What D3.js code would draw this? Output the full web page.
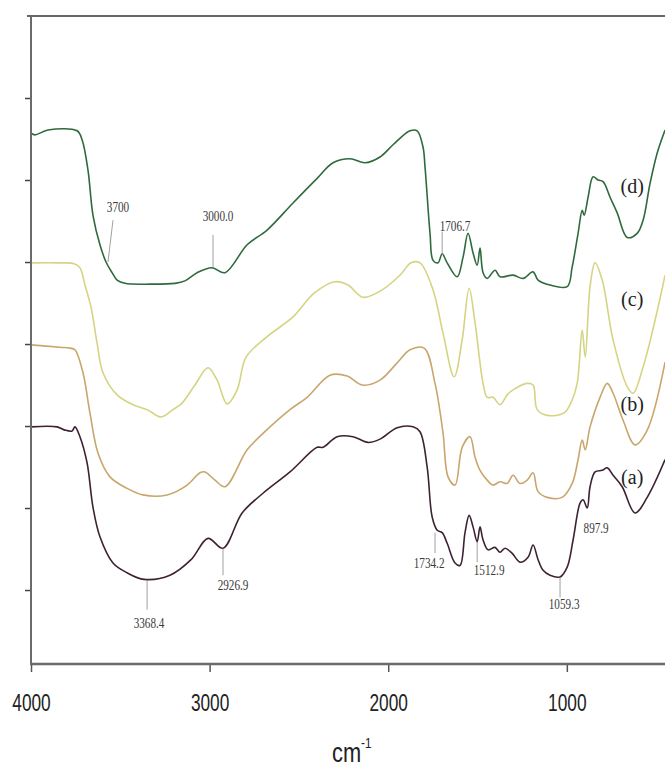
<!DOCTYPE html>
<html lang="en">
<head>
    <meta charset="UTF-8">
    <title>FTIR spectra (a)-(d)</title>
    <script src="https://d3js.org/d3.v7.min.js"></script>
    <style>
        body { margin: 0; background: #fff; }
        svg { display: block; }
    </style>
</head>
<body>
    <div id="chart"></div>

    <script>
        // wavenumber (cm-1) and transmittance (arbitrary, offset)
        const specA = [
            [4000, 29.9], [3854, 29.9], [3810, 29.5], [3770, 29.4], [3754, 29.9], [3726, 28.7],
            [3686, 25.5], [3653, 20.1], [3614, 16.5], [3541, 13.3], [3462, 12.1], [3367, 11.3],
            [3222, 11.8], [3104, 13.7], [3009, 16.3], [2925, 15.1], [2818, 19.4], [2701, 21.8],
            [2550, 24.4], [2398, 27.4], [2365, 27.4], [2286, 28.7], [2197, 28.7], [2113, 28.0],
            [2046, 28.4], [1950, 29.8], [1861, 29.9], [1822, 29.3], [1782, 25.0], [1754, 18.9],
            [1726, 17.3], [1698, 17.0], [1670, 15.7], [1626, 13.3], [1598, 13.0], [1570, 17.0],
            [1547, 19.1], [1525, 17.7], [1502, 15.9], [1486, 17.7], [1469, 16.1], [1441, 14.9],
            [1402, 15.2], [1374, 14.6], [1346, 15.1], [1307, 14.5], [1262, 13.4], [1217, 14.0],
            [1189, 15.5], [1161, 13.7], [1133, 12.4], [1094, 11.8], [1038, 11.6], [998, 12.8],
            [965, 16.1], [926, 20.6], [909, 21.0], [886, 20.0], [870, 22.6], [842, 24.4],
            [802, 24.6], [774, 24.9], [741, 24.0], [690, 22.6], [618, 19.4], [550, 21.3], [450, 25.9]
        ];
        const specB = [
            [4000, 39.9], [3838, 39.6], [3782, 39.5], [3754, 39.3], [3709, 36.5], [3670, 31.6],
            [3625, 26.7], [3558, 23.8], [3462, 22.4], [3373, 21.6], [3238, 21.6], [3126, 22.8],
            [3054, 24.3], [3026, 24.4], [2970, 23.4], [2914, 22.6], [2790, 27.1], [2701, 29.1],
            [2550, 32.0], [2454, 33.5], [2326, 36.2], [2230, 36.1], [2146, 35.0], [2046, 35.6],
            [1950, 37.7], [1878, 39.3], [1799, 39.5], [1738, 35.2], [1693, 29.1], [1665, 23.8],
            [1626, 22.8], [1586, 27.4], [1542, 28.7], [1514, 26.2], [1486, 24.6], [1446, 23.4],
            [1413, 22.8], [1374, 23.2], [1334, 23.0], [1301, 24.0], [1262, 23.0], [1222, 23.4],
            [1189, 24.3], [1161, 22.0], [1110, 21.3], [1026, 21.3], [970, 23.0], [937, 25.9],
            [914, 28.3], [897, 27.1], [870, 29.9], [814, 33.5], [774, 35.2], [741, 34.0],
            [685, 30.7], [618, 27.7], [550, 29.5], [450, 37.8]
        ];
        const specC = [
            [4000, 49.9], [3838, 49.9], [3759, 49.8], [3726, 49.3], [3698, 47.2], [3664, 44.5],
            [3630, 40.1], [3597, 36.5], [3518, 33.8], [3429, 32.6], [3350, 32.0], [3272, 31.1],
            [3205, 32.0], [3154, 32.8], [3082, 35.0], [3009, 37.1], [2958, 35.6], [2902, 32.7],
            [2846, 34.4], [2796, 38.4], [2678, 40.9], [2533, 43.3], [2415, 46.2], [2298, 47.6],
            [2225, 47.2], [2141, 45.7], [2034, 46.6], [1934, 48.4], [1872, 49.9], [1822, 49.9],
            [1749, 46.6], [1693, 41.3], [1631, 36.0], [1586, 40.5], [1547, 46.8], [1514, 42.6],
            [1469, 35.2], [1446, 33.5], [1413, 33.5], [1374, 32.6], [1334, 33.8], [1301, 34.4],
            [1222, 35.2], [1189, 35.0], [1166, 32.0], [1110, 31.3], [1015, 31.6], [970, 33.2],
            [942, 35.2], [914, 41.7], [897, 38.4], [870, 47.0], [842, 49.9], [802, 47.8],
            [741, 40.5], [662, 34.8], [629, 34.0], [573, 37.2], [506, 42.9], [450, 48.4]
        ];
        const specD = [
            [4000, 65.7], [3978, 65.5], [3905, 66.1], [3742, 66.0], [3714, 64.9], [3681, 61.2],
            [3653, 55.7], [3614, 52.1], [3580, 50.0], [3546, 48.7], [3518, 47.8], [3474, 47.4],
            [3334, 47.3], [3194, 47.4], [3138, 47.7], [3070, 48.7], [2986, 49.3], [2914, 48.7],
            [2790, 52.1], [2678, 53.9], [2533, 57.2], [2398, 60.2], [2309, 62.1], [2214, 62.6],
            [2130, 62.1], [2046, 62.8], [1973, 64.3], [1878, 66.0], [1838, 66.0], [1805, 64.0],
            [1794, 61.6], [1766, 53.5], [1749, 50.2], [1721, 49.9], [1698, 51.0], [1670, 49.9],
            [1614, 48.2], [1581, 50.6], [1553, 53.5], [1525, 51.1], [1502, 49.6], [1486, 51.7],
            [1469, 48.7], [1446, 48.0], [1402, 49.0], [1374, 48.2], [1301, 48.4], [1245, 48.0],
            [1189, 48.8], [1161, 47.8], [1094, 47.2], [998, 47.0], [970, 49.4], [937, 53.5],
            [914, 56.3], [903, 55.7], [881, 57.9], [853, 60.4], [825, 60.0], [797, 59.8],
            [758, 57.9], [718, 56.0], [662, 53.0], [606, 53.5], [573, 55.1], [534, 59.6],
            [494, 63.3], [450, 66.1]
        ];

        const seriesNames = ["(a)", "(b)", "(c)", "(d)"];
        const seriesData = [specA, specB, specC, specD];
        const seriesColors = ["#3d2233", "#c9a66c", "#d5d483", "#2f6a3d"];
        // where each series name sits: [wavenumber, transmittance]
        const seriesLabelAt = [[634, 22.9], [634, 31.8], [634, 44.6], [634, 58.4]];

        // peak annotations: label text, marker line (wn top, v top, wn bottom, v bottom), label anchor
        const peaks = [
            { text: "3700",   line: [3541, 55.1, 3569, 50.0], at: [3513, 56.1] },
            { text: "3000.0", line: [2981, 53.3, 2981, 49.4], at: [2953, 55.0] },
            { text: "1706.7", line: [1698, 53.7, 1698, 50.9], at: [1626, 53.8] },
            { text: "3368.4", line: [3350, 11.2, 3350, 7.6],  at: [3339, 5.4] },
            { text: "2926.9", line: [2925, 15.1, 2925, 11.8], at: [2869, 10.0] },
            { text: "1734.2", line: [1738, 17.0, 1738, 14.5], at: [1771, 12.7] },
            { text: "1512.9", line: [1502, 15.9, 1502, 13.4], at: [1435, 11.8] },
            { text: "1059.3", line: [1038, 11.6, 1038, 9.1],  at: [1015, 7.7] },
            { text: "897.9",  line: null,                     at: [836, 17.0] }
        ];

        const xTicks = [4000, 3000, 2000, 1000];
        const yTicks = [10, 20, 30, 40, 50, 60, 70];
        const xTitle = "cm";
        const xTitleSup = "-1";

        const width = 665;
        const height = 770;

        const x = d3.scaleLinear().domain([4000, 400]).range([31, 674]);
        const y = d3.scaleLinear().domain([0.98, 80]).range([664, 16]);

        const svg = d3.select("#chart")
            .append("svg")
            .attr("width", width)
            .attr("height", height);

        svg.append("rect").attr("width", width).attr("height", height).attr("fill", "#fff");

        svg.append("clipPath").attr("id", "plot-clip")
            .append("rect")
            .attr("x", 31).attr("y", 16)
            .attr("width", 643).attr("height", 648);

        // top frame line
        svg.append("line")
            .attr("x1", 27).attr("x2", 674)
            .attr("y1", 16).attr("y2", 16)
            .attr("stroke", "#333")
            .attr("stroke-width", 1.6);

        const line = d3.line()
            .x(d => x(d[0]))
            .y(d => y(d[1]))
            .curve(d3.curveCatmullRom.alpha(0.5));

        svg.append("g")
            .attr("clip-path", "url(#plot-clip)")
            .selectAll("path")
            .data(seriesData)
            .join("path")
            .attr("d", line)
            .attr("fill", "none")
            .attr("stroke", (d, i) => seriesColors[i])
            .attr("stroke-width", 1.6)
            .attr("stroke-linejoin", "round");

        // peak markers
        const ann = svg.append("g");
        ann.selectAll("line")
            .data(peaks.filter(p => p.line))
            .join("line")
            .attr("x1", p => x(p.line[0])).attr("y1", p => y(p.line[1]))
            .attr("x2", p => x(p.line[2])).attr("y2", p => y(p.line[3]))
            .attr("stroke", "#888")
            .attr("stroke-width", 0.8);

        ann.selectAll("text")
            .data(peaks)
            .join("text")
            .attr("transform", p => `translate(${x(p.at[0])},${y(p.at[1])}) scale(0.8,1)`)
            .attr("text-anchor", "middle")
            .attr("font-family", "'Liberation Serif', 'Times New Roman', serif")
            .attr("font-size", 14)
            .attr("fill", "#3a3a3a")
            .text(p => p.text);

        // series names
        svg.append("g")
            .selectAll("text")
            .data(seriesNames)
            .join("text")
            .attr("x", (d, i) => x(seriesLabelAt[i][0]))
            .attr("y", (d, i) => y(seriesLabelAt[i][1]))
            .attr("text-anchor", "middle")
            .attr("font-family", "'Liberation Serif', 'Times New Roman', serif")
            .attr("font-size", 20)
            .attr("fill", "#222")
            .text(d => d);

        // left axis (no labels)
        const yAxis = svg.append("g")
            .attr("transform", "translate(31,0)")
            .call(d3.axisLeft(y).tickValues(yTicks).tickSize(6).tickFormat(""));
        yAxis.select(".domain").remove();
        yAxis.selectAll(".tick line").attr("stroke", "#444").attr("stroke-width", 1.5);
        svg.append("line")
            .attr("x1", 31).attr("x2", 31)
            .attr("y1", 16).attr("y2", 665)
            .attr("stroke", "#6a6a6a")
            .attr("stroke-width", 2);

        // bottom axis
        const xAxis = svg.append("g")
            .attr("transform", "translate(0,664)")
            .call(d3.axisBottom(x).tickValues(xTicks).tickSize(8).tickPadding(22).tickFormat(d3.format("d")));
        xAxis.select(".domain").remove();
        xAxis.selectAll(".tick line").attr("stroke", "#555").attr("stroke-width", 1.5);
        xAxis.selectAll(".tick text")
            .attr("font-family", "'Liberation Sans', Arial, sans-serif")
            .attr("font-size", 24)
            .attr("fill", "#222")
            .attr("transform", "scale(0.72,1)");
        svg.append("line")
            .attr("x1", 30).attr("x2", 674)
            .attr("y1", 664).attr("y2", 664)
            .attr("stroke", "#6a6a6a")
            .attr("stroke-width", 2.5);

        // axis title
        const title = svg.append("text")
            .attr("transform", "translate(332,762) scale(0.78,1)")
            .attr("font-family", "'Liberation Sans', Arial, sans-serif")
            .attr("font-size", 28)
            .attr("fill", "#222");
        title.append("tspan").text(xTitle);
        title.append("tspan")
            .attr("font-size", 15)
            .attr("dy", -14)
            .text(xTitleSup);
    </script>
</body>
</html>
